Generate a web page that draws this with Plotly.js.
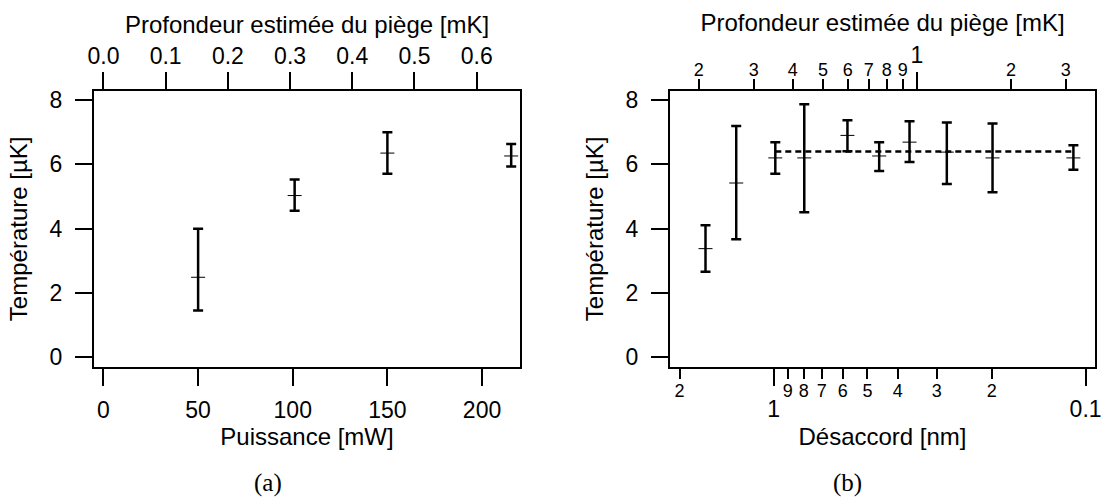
<!DOCTYPE html>
<html>
<head>
<meta charset="utf-8">
<script src="https://cdn.plot.ly/plotly-3.0.1.min.js"></script>
<style>html,body{margin:0;padding:0;background:#fff;}#chart{width:1105px;height:504px;}</style>
</head>
<body>
<div id="chart"></div>
<script>
// ---- Panel (a): temperature vs power ----
var powerMW = [50, 101, 150, 215.4];
var tempA = [2.49, 5.03, 6.35, 6.26];
var tempAErrPlus = [1.51, 0.50, 0.65, 0.37];
var tempAErrMinus = [1.03, 0.47, 0.64, 0.33];
var powerTicks = [0, 50, 100, 150, 200];
var depthTicksA = [0, 0.1, 0.2, 0.3, 0.4, 0.5, 0.6];
var mKperMW = 0.003043;           // trap depth per mW (top axis scale)

// ---- Panel (b): temperature vs detuning ----
var detuningNM = [1.652, 1.317, 0.987, 0.797, 0.5796, 0.4586, 0.3666, 0.2784, 0.1987, 0.1094];
var tempB = [3.38, 5.42, 6.20, 6.20, 6.90, 6.26, 6.69, 6.38, 6.20, 6.20];
var tempBErrPlus = [0.73, 1.77, 0.49, 1.67, 0.47, 0.43, 0.65, 0.92, 1.07, 0.39];
var tempBErrMinus = [0.72, 1.75, 0.49, 1.69, 0.49, 0.47, 0.62, 0.99, 1.07, 0.37];
var meanLineX = [0.987, 0.1094];
var meanLineY = [6.40, 6.40];
var mKtimesNM = 0.347;            // trap depth = mKtimesNM / detuning

var detMinorTicks = [2, 0.9, 0.8, 0.7, 0.6, 0.5, 0.4, 0.3, 0.2];
var detMinorText = ['2', '9', '8', '7', '6', '5', '4', '3', '2'];
var detMajorTicks = [1, 0.1];
var detMajorText = ['1', '0.1'];
var depthMinorTicks = [0.2, 0.3, 0.4, 0.5, 0.6, 0.7, 0.8, 0.9, 2, 3];
var depthMinorText = ['2', '3', '4', '5', '6', '7', '8', '9', '2', '3'];
var depthMajorTicks = [1];
var depthMajorText = ['1'];

var tempTicks = [0, 2, 4, 6, 8];

var FONT = 'Liberation Sans, Arial, Helvetica, sans-serif';
var TICKF = {family: FONT, size: 23, color: '#000'};
var SMALLF = {family: FONT, size: 18, color: '#000'};
var TITLEF = {family: FONT, size: 24, color: '#000'};

var xRangeA = [-5, 220.06];
var yRange = [-0.29, 8.28];
var logDetRange = [0.3318, -1.0302];
var logDepthRange = [Math.log10(mKtimesNM) - logDetRange[0], Math.log10(mKtimesNM) - logDetRange[1]];

function errTrace(x, y, ep, em, xa, ya) {
  return {
    type: 'scatter', mode: 'markers', x: x, y: y, xaxis: xa, yaxis: ya,
    marker: {symbol: 'line-ew', size: 10, color: '#000', line: {color: '#000', width: 1}},
    error_y: {type: 'data', symmetric: false, array: ep, arrayminus: em, color: '#000', thickness: 2.5, width: 5},
    hoverinfo: 'skip', showlegend: false
  };
}

var traces = [
  errTrace(powerMW, tempA, tempAErrPlus, tempAErrMinus, 'x', 'y'),
  {type: 'scatter', mode: 'markers', x: powerMW.map(function (p) { return p * mKperMW; }), y: tempA,
   xaxis: 'x2', yaxis: 'y', marker: {opacity: 0}, hoverinfo: 'skip', showlegend: false},
  {type: 'scatter', mode: 'lines', x: meanLineX, y: meanLineY, xaxis: 'x3', yaxis: 'y2',
   line: {color: '#000', width: 2.5, dash: '6px,4px'}, hoverinfo: 'skip', showlegend: false},
  errTrace(detuningNM, tempB, tempBErrPlus, tempBErrMinus, 'x3', 'y2'),
  {type: 'scatter', mode: 'markers', x: detuningNM, y: tempB, xaxis: 'x4', yaxis: 'y2',
   marker: {opacity: 0}, hoverinfo: 'skip', showlegend: false},
  {type: 'scatter', mode: 'markers', x: detuningNM.map(function (d) { return mKtimesNM / d; }), y: tempB,
   xaxis: 'x5', yaxis: 'y2', marker: {opacity: 0}, hoverinfo: 'skip', showlegend: false},
  {type: 'scatter', mode: 'markers', x: detuningNM.map(function (d) { return mKtimesNM / d; }), y: tempB,
   xaxis: 'x6', yaxis: 'y2', marker: {opacity: 0}, hoverinfo: 'skip', showlegend: false}
];

var domA = [94 / 1105, 520 / 1105];
var domB = [670 / 1105, 1095 / 1105];
var domY = [(504 - 366.7) / 504, (504 - 91) / 504];

var common = {showgrid: false, zeroline: false, ticks: 'outside', tickwidth: 2, tickcolor: '#000',
  linecolor: '#000', linewidth: 2, fixedrange: true};

function ax(o) { var r = {}; for (var k in common) r[k] = common[k]; for (var k2 in o) r[k2] = o[k2]; return r; }

var layout = {
  width: 1105, height: 504,
  margin: {l: 0, r: 0, t: 0, b: 0},
  paper_bgcolor: '#fff', plot_bgcolor: '#fff',
  showlegend: false,
  font: {family: FONT, color: '#000'},
  xaxis: ax({domain: domA, anchor: 'y', side: 'bottom', range: xRangeA, tickmode: 'array', tickvals: powerTicks,
    ticklen: 17, tickfont: TICKF, showline: true, mirror: false, ticklabelstandoff: 5,
    title: {text: 'Puissance [mW]', font: TITLEF, standoff: 6}}),
  xaxis2: ax({overlaying: 'x', anchor: 'y', side: 'top', range: [xRangeA[0] * mKperMW, xRangeA[1] * mKperMW],
    tickmode: 'array', tickvals: depthTicksA, tickformat: '.1f', ticklen: 17, tickfont: TICKF, showline: true,
    ticklabelstandoff: -1,
    title: {text: 'Profondeur estimée du piège [mK]', font: TITLEF, standoff: 2}}),
  yaxis: ax({domain: domY, anchor: 'x', range: yRange, tickmode: 'array', tickvals: tempTicks, ticklen: 17,
    tickfont: TICKF, showline: true, mirror: true, ticklabelstandoff: 8,
    title: {text: 'Température [µK]', font: TITLEF, standoff: 15}}),
  xaxis3: ax({domain: domB, anchor: 'y2', side: 'bottom', type: 'log', range: logDetRange, tickmode: 'array',
    tickvals: detMinorTicks, ticktext: detMinorText, ticklen: 10, tickfont: SMALLF, showline: true, mirror: false,
    ticklabelstandoff: -3}),
  xaxis4: ax({overlaying: 'x3', anchor: 'y2', side: 'bottom', type: 'log', range: logDetRange, tickmode: 'array',
    tickvals: detMajorTicks, ticktext: detMajorText, ticklen: 18, tickfont: TICKF, showline: false,
    ticklabelstandoff: 4,
    title: {text: 'Désaccord [nm]', font: TITLEF, standoff: 6}}),
  xaxis5: ax({overlaying: 'x3', anchor: 'y2', side: 'top', type: 'log', range: logDepthRange, tickmode: 'array',
    tickvals: depthMinorTicks, ticktext: depthMinorText, ticklen: 10, tickfont: SMALLF, showline: true,
    ticklabelstandoff: -4}),
  xaxis6: ax({overlaying: 'x3', anchor: 'y2', side: 'top', type: 'log', range: logDepthRange, tickmode: 'array',
    tickvals: depthMajorTicks, ticktext: depthMajorText, ticklen: 18, tickfont: TICKF, showline: false,
    ticklabelstandoff: 0,
    title: {text: 'Profondeur estimée du piège [mK]', font: TITLEF, standoff: 3}}),
  yaxis2: ax({domain: domY, anchor: 'x3', range: yRange, tickmode: 'array', tickvals: tempTicks, ticklen: 17,
    tickfont: TICKF, showline: true, mirror: true, ticklabelstandoff: 8,
    title: {text: 'Température [µK]', font: TITLEF, standoff: 15}}),
  annotations: [
    {text: '(a)', xref: 'paper', yref: 'paper', x: 268 / 1105, y: 1 - 483 / 504, xanchor: 'center', yanchor: 'middle',
     showarrow: false, font: {family: 'Liberation Serif, DejaVu Serif, serif', size: 25, color: '#000'}},
    {text: '(b)', xref: 'paper', yref: 'paper', x: 847 / 1105, y: 1 - 483 / 504, xanchor: 'center', yanchor: 'middle',
     showarrow: false, font: {family: 'Liberation Serif, DejaVu Serif, serif', size: 25, color: '#000'}}
  ]
};

Plotly.newPlot('chart', traces, layout, {displayModeBar: false, staticPlot: true});
</script>
</body>
</html>
